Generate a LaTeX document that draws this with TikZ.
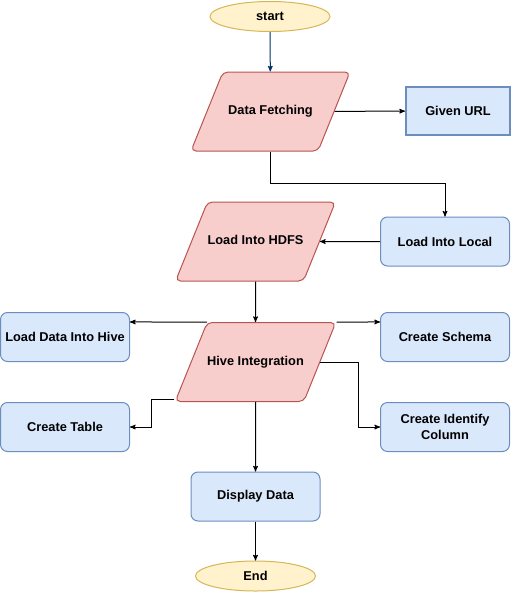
\documentclass[tikz,border=0pt]{standalone}
\usepackage{fontspec}
\setmainfont{Liberation Sans}
\usepackage{tikz}
\usetikzlibrary{arrows,shapes.geometric}

\definecolor{termfill}{HTML}{FFF2CC}
\definecolor{termline}{HTML}{D6B656}
\definecolor{iofill}{HTML}{F8CECC}
\definecolor{ioline}{HTML}{B85450}
\definecolor{procfill}{HTML}{DAE8FC}
\definecolor{procline}{HTML}{6C8EBF}
\definecolor{startline}{HTML}{003366}

\begin{document}
\begin{tikzpicture}[x=1pt,y=-1pt]
        \tikzset{base/.style = {font=\fontsize{12.8}{15.5}\selectfont\bfseries,line width=1pt,align=center}}
        \tikzset{term/.style = {base,shape=ellipse,draw=termline,fill=termfill,minimum width=120pt,minimum height=30pt,inner sep=0pt}}
        \tikzset{io/.style = {base,shape=trapezium,trapezium left angle=68,trapezium right angle=112,trapezium stretches body,rounded corners=5pt,draw=ioline,fill=iofill,text height=9pt,text depth=3pt,inner ysep=33.5pt,inner xsep=0pt,minimum width=159pt}}
        \tikzset{proc/.style = {base,shape=rectangle,rounded corners=7pt,draw=procline,fill=procfill,minimum width=129pt,minimum height=49pt}}
        \tikzset{edge/.style = {->,> = stealth',line width=1pt}}

        \useasboundingbox (0,0) rectangle (512,592);

        % terminals
        \node[term] (start) at (270,16.5) {start};
        \node[term] (stop) at (255.5,576) {End};

        % input / output steps
        \node[io] (fetch) at (270.5,111.5) {Data Fetching};
        \node[io] (hdfs) at (255.5,241.5) {Load Into HDFS};
        \node[io] (hive) at (255.5,362) {Hive Integration};

        % processes
        \node[proc,sharp corners,line width=2pt,minimum width=104pt,minimum height=48pt] (url) at (458,111) {Given URL};
        \node[proc] (local) at (445,241.5) {Load Into Local};
        \node[proc] (loadhive) at (65,337) {Load Data Into Hive};
        \node[proc] (schema) at (445,337) {Create Schema};
        \node[proc] (table) at (65,427) {Create Table};
        \node[proc] (ident) at (445,427) {Create Identify\\Column};
        \node[proc] (disp) at (255.5,496.5) {Display Data};

        % edges
        \draw[edge,draw=startline] (start) -- (fetch);
        \draw[edge] (fetch) -- (url);
        \draw[edge] (fetch.south) -- ++(0,32) -| (local.north);
        \draw[edge] (local) -- (hdfs);
        \draw[edge] (hdfs) -- (hive);
        \draw[edge] (hive.top left corner) -- (hive.north -| loadhive.east);
        \draw[edge] (hive.top right corner) -- (hive.north -| schema.west);
        \draw[edge] ([yshift=3pt]hive.bottom left corner) -- ++(-23,0) |- (table.east);
        \draw[edge] (hive.east) -- ++(38,0) |- (ident.west);
        \draw[edge] (hive) -- (disp);
        \draw[edge] (disp) -- (stop);

    \end{tikzpicture}
\end{document}
